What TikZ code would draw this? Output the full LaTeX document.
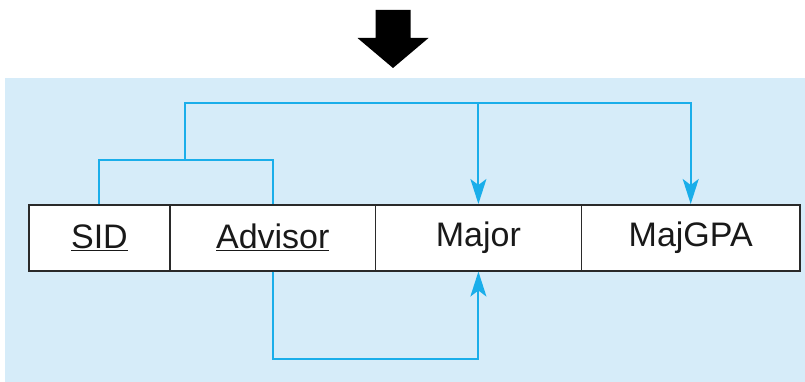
\documentclass[tikz,border=0pt]{standalone}
\usepackage{fontspec}
\setmainfont{Liberation Sans}
\usetikzlibrary{arrows.meta}
\definecolor{panelblue}{HTML}{D6ECF9}
\definecolor{linkblue}{HTML}{1AAEEA}
\definecolor{cellline}{HTML}{2A2A2A}
\tikzset{
  x=1pt, y=-1pt,
  cell/.style={draw=cellline, line width=1.5pt, fill=white, rectangle,
    minimum height=66pt, inner sep=0pt, anchor=north west,
    font=\fontsize{34}{40}\selectfont, text=black!90},
  link/.style={draw=linkblue, line width=2pt},
  linkarrow/.style={link, -{Stealth[length=25pt, width=16pt, inset=6pt]}},
}
\begin{document}
\begin{tikzpicture}
  \useasboundingbox (0,0) rectangle (805,382);
  % light blue panel
  \fill[panelblue] (5,78) rectangle (805,382);
  % big black arrow above the panel
  \fill[black] (375.5,10) -- (410.5,10) -- (410.5,38) -- (428.5,38)
    -- (393,68) -- (357.5,38) -- (375.5,38) -- cycle;
  % relation cells
  \node[cell, minimum width=141.4pt] (sid) at (28,204) {\underline{SID}};
  \node[cell, minimum width=205.3pt] (adv) at (169.4,204) {\underline{Advisor}};
  \node[cell, minimum width=205.9pt] (maj) at (374.7,204) {Major};
  \node[cell, minimum width=218.7pt] (gpa) at (580.6,204) {MajGPA};
  % determinant {SID, Advisor}
  \coordinate (joinL) at (sid.north |- 0,160);
  \coordinate (joinR) at (adv.north |- 0,160);
  \coordinate (joinM) at (185,160);
  \coordinate (busL) at (185,103);
  \draw[link] (sid.north) -- (joinL) -- (joinR) -- (adv.north);
  \draw[linkarrow] (joinM) -- (busL) -- (gpa.north |- busL) -- (gpa.north);
  \draw[linkarrow] (maj.north |- busL) -- (maj.north);
  % determinant Advisor -> Major
  \coordinate (lowL) at (adv.south |- 0,359);
  \coordinate (lowR) at (maj.south |- 0,359);
  \draw[linkarrow] (adv.south) -- (lowL) -- (lowR) -- (maj.south);
\end{tikzpicture}
\end{document}
